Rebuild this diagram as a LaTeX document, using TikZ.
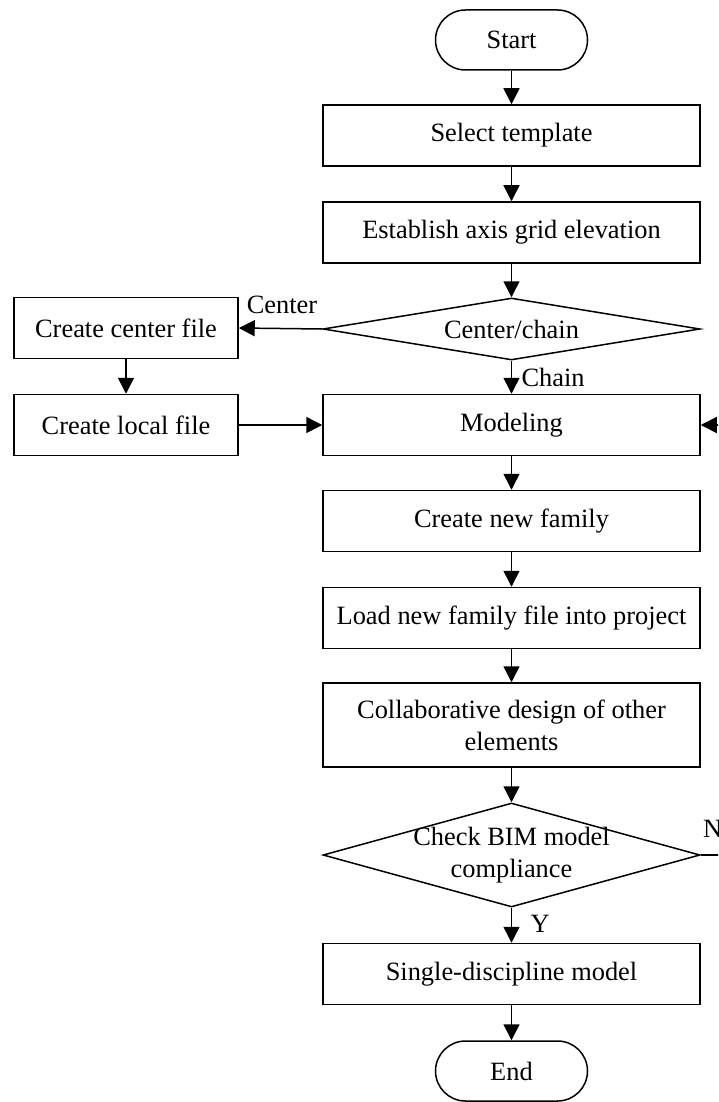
\documentclass[tikz,border=0pt]{standalone}
\usepackage{fontspec}
\setmainfont{Liberation Serif}
\usetikzlibrary{arrows.meta,shapes.geometric}

\tikzset{
	procbox/.style={draw, line width=1.5pt, rectangle, minimum width=377pt, minimum height=61pt, inner sep=0pt, align=center},
	sidebox/.style={procbox, minimum width=224pt},
	termbox/.style={draw, line width=1.5pt, rectangle, rounded corners=30pt, minimum width=152pt, minimum height=60pt, inner sep=0pt},
	decbox/.style={draw, line width=1.5pt, diamond, minimum width=377pt, inner sep=0pt},
	flowarrow/.style={line width=1.5pt, -{Triangle[length=16pt,width=16pt]}}
}

\begin{document}
\begin{tikzpicture}[x=1pt, y=-1pt, font=\fontsize{26.4}{32}\selectfont]
				\useasboundingbox (0,0) rectangle (718,1102);
				\clip (0,0) rectangle (718,1102);
				
				\node[termbox] (start) at (511.5,40) {Start};
				\node[procbox] (sel) at (511.5,135.5) {Select template};
				\node[procbox] (est) at (511.5,232.5) {Establish axis grid elevation};
				\node[decbox, minimum height=62pt, label=center:{Center/chain}] (cc) at (511.5,329) {};
				\node[sidebox] (ccf) at (126,328) {Create center file};
				\node[sidebox] (clf) at (126,425) {Create local file};
				\node[procbox] (mod) at (511.5,425) {Modeling};
				\node[procbox] (fam) at (511.5,521) {Create new family};
				\node[procbox] (load) at (511.5,618) {Load new family file into project};
				\node[procbox, minimum height=84pt] (col) at (511.5,725) {Collaborative design of other\\elements};
				\node[decbox, minimum height=104pt, label={[align=center]center:{Check BIM model\\compliance}}] (chk) at (511.5,855) {};
				\node[procbox] (sdm) at (511.5,974) {Single-discipline model};
				\node[termbox] (end) at (511.5,1071) {End};
				
				\coordinate (loopa) at (745,855);
				\coordinate (loopb) at (745,425);
				
				\draw[flowarrow] (start) -- (sel);
				\draw[flowarrow] (sel) -- (est);
				\draw[flowarrow] (est) -- (cc);
				\draw[flowarrow] (cc.west) -- (ccf.east);
				\draw[flowarrow] (ccf) -- (clf);
				\draw[flowarrow] (clf) -- (mod);
				\draw[flowarrow] (cc.south) -- (mod.north);
				\draw[flowarrow] (mod) -- (fam);
				\draw[flowarrow] (fam) -- (load);
				\draw[flowarrow] (load) -- (col);
				\draw[flowarrow] (col) -- (chk.north);
				\draw[flowarrow] (chk.south) -- (sdm.north);
				\draw[flowarrow] (sdm) -- (end);
				\draw[flowarrow] (chk.east) -- (loopa) -- (loopb) -- (mod.east);
				
				\node (lcenter) at (282,305) {Center};
				\node[anchor=west] (lchain) at (518,377) {Chain};
				\node[anchor=west] (ly) at (527,924) {Y};
				\node[anchor=south west, inner sep=0pt] (ln) at (703,838) {N};
			\end{tikzpicture}
\end{document}
